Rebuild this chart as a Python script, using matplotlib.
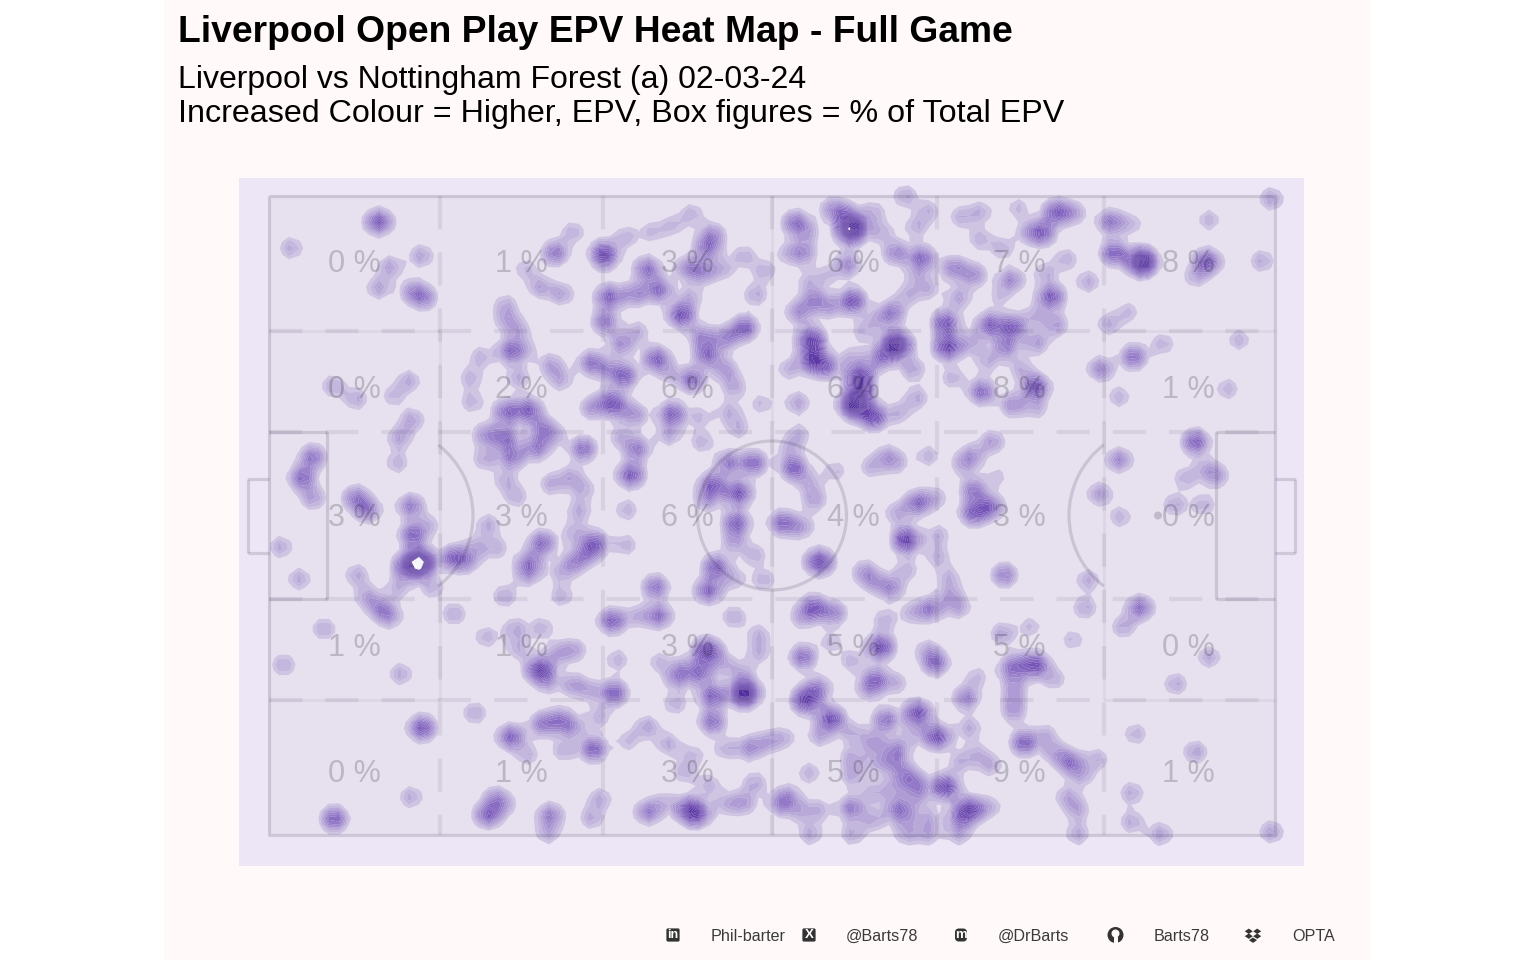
import numpy as np
import matplotlib
matplotlib.use("Agg")
import matplotlib.pyplot as plt
from matplotlib.colors import LinearSegmentedColormap
from matplotlib.patches import Rectangle, Circle, Arc, FancyBboxPatch, Polygon

plt.rcParams['font.family'] = ['Liberation Sans', 'DejaVu Sans']

# pitch units: 1006 long, 639 wide, y measured from the top touchline
TITLE = "Liverpool Open Play EPV Heat Map - Full Game"
SUB1 = "Liverpool vs Nottingham Forest (a) 02-03-24"
SUB2 = "Increased Colour = Higher, EPV, Box figures = % of Total EPV"
col_centres = [85, 252, 418, 584, 750, 919]
row_centres = [66, 192, 320, 449, 576]
pct = [[0, 1, 3, 6, 7, 8],
       [0, 2, 6, 6, 8, 1],
       [3, 3, 6, 4, 3, 0],
       [1, 1, 3, 5, 5, 0],
       [0, 1, 3, 5, 9, 1]]
footer_labels = ["Phil-barter", "@Barts78", "@DrBarts", "Barts78", "OPTA"]

# open-play events: (x, y, epv weight)
# x readings in each half were taken with a slightly narrow ruler; READ_X below calibrates them
events_top_left = [
(105,26,2.2),(20,52,.8),(146,60,.9),(116,71,.9),(105,92,.9),(139,96,1.2),(149,102,1.2),(293,36,.7),(276,57,1.6),
(247,73,.6),(261,91,.9),(282,98,.9),(228,109,.7),(229,124,.8),(241,134,.7),(233,155,1.8),(204,161,.7),(248,154,.5),
(194,182,.7),(195,206,.7),(240,182,.8),(272,169,.9),(281,184,.8),(61,190,.8),(83,203,.8),(134,185,.8),(119,200,.6),
(137,224,.9),(125,242,.9),(123,267,.7),(323,57,2),(324,64,.8),(344,41,.7),(408,18,.7),(389,30,.6),(369,36,.6),
(365,73,1.7),(428,39,1.2),(423,52,1.5),(404,72,1.2),(419,76,1.2),(438,73,.7),(459,60,.7),(478,75,.7),(470,99,.8),
(376,94,1.8),(328,101,2),(353,98,1.3),(407,101,.7),(398,119,2.4),(324,126,1.5),(356,136,.7),(340,148,1.2),(374,163,2),
(386,177,.6),(311,167,1.6),(343,180,1.9),(328,174,.9),(418,141,1.3),(441,142,1.3),(459,132,2),(423,159,1.8),(441,174,1),
(408,184,1.8),(449,191,.8),(329,206,1.9),(311,212,1),(354,219,1),(338,212,.9),(389,218,2),(416,221,.6),(386,239,.8),
(418,246,.7),(444,216,.7),(476,208,.6),(453,232,.7),(229,216,1.8),(250,214,2),(209,239,1.2),(228,242,1.6),(208,263,.8),
(234,261,1.5),(258,252,1.5),(263,232,1.2),(274,239,.8),(303,253,1.7),(339,241,.7),(355,253,1.5),(349,279,2.2),(272,288,.8),
(291,281,.8),(303,293,.7),(228,285,.7),(238,301,.7),(299,315,.8),(345,314,.7),(41,261,1.6),(31,282,1.8),(41,302,1),
(83,302,1.5),(94,314,1.5),(136,310,1.5),(428,289,2),(453,297,2.4),(468,267,1.8),(444,267,1.5),(423,304,1),
]
events_top_right = [
(632,0,.8),(986,3,.9),(526,27,1.7),(538,37,.7),(559,12,.7),(571,17,1.4),(581,31,4.8),(578,39,1.2),(601,16,.7),(609,36,.7),
(654,15,.7),(643,31,.7),(686,21,.7),(705,16,.7),(704,43,.7),(741,12,.6),(778,16,2),(794,17,1),(764,37,2),(751,36,.7),
(831,26,1.6),(851,28,.6),(926,24,.7),(533,57,1.2),(518,57,.6),(576,69,1.3),(556,79,.5),(538,86,.6),(623,57,1.3),(648,62,1.8),
(643,79,.6),(654,93,.7),(634,99,.7),(679,72,1.3),(698,79,1.2),(726,52,.7),(734,84,1.3),(723,101,.5),(788,63,.7),(768,77,.7),
(809,86,.8),(834,57,2),(861,66,5.2),(924,66,2.3),(913,81,.7),(977,65,.8),(773,101,2.2),(581,105,2.3),(544,104,1.2),(529,116,1.2),
(559,111,.9),(619,117,1.5),(604,124,.6),(684,102,.9),(758,120,.7),(778,129,1),(759,147,1),(848,116,.6),(829,128,.8),(591,135,.6),
(541,144,3),(543,164,3),(556,171,1.5),(519,173,.7),(623,149,5.2),(608,162,1.5),(581,162,.7),(588,181,3),(583,209,4.8),(601,221,2.5),
(589,197,2),(639,173,.9),(643,202,.8),(626,217,.7),(528,207,.9),(671,127,2.2),(673,151,2.8),(696,147,.8),(714,129,2),(736,131,2),
(729,151,1.4),(711,166,.7),(744,173,.7),(678,182,.7),(706,196,1.8),(758,191,2.4),(736,209,1.2),(759,212,.7),(821,173,1.3),(853,161,1.7),
(881,148,.7),(839,201,.7),(944,193,.7),(955,144,.7),(913,246,2),(529,239,.7),(519,252,.6),(524,272,2),(539,287,.7),(544,304,.9),
(564,275,.6),(599,271,.7),(614,260,.8),(623,267,.7),(654,260,.7),(716,246,1),(696,260,1),(688,269,.7),(644,307,1.8),(661,302,.7),
(624,317,.8),(698,294,1.5),(721,281,.5),(714,311,1.9),(698,317,2),(839,264,1.3),(820,298,1),(903,282,.7),(923,273,.7),(934,280,.9),
(893,309,.8),(921,309,.7),(840,321,.7),
]
events_bottom_left = [
(10,351,.8),(28,383,.8),(84,379,.8),(124,392,.7),(157,392,.7),(138,339,1.9),(154,329,.6),(144,367,6.5),(131,371,1.8),(178,362,2),
(191,366,.9),(199,351,.7),(219,352,.7),(94,401,.9),(107,413,1.2),(116,421,.9),(263,347,1.8),(251,367,1.5),(249,379,.9),(211,329,.8),
(227,400,.8),(282,400,.7),(281,377,.6),(294,367,1.2),(308,357,1.2),(314,347,1.8),(294,337,.7),(344,349,.7),(373,391,1.6),(178,418,.8),
(52,433,.8),(13,469,.8),(126,478,.8),(209,441,.7),(237,433,.8),(263,432,.7),(240,453,.7),(261,474,3),(269,487,.7),(278,457,.8),
(294,454,.9),(294,489,1),(311,495,.7),(333,497,2),(318,521,.7),(198,517,.8),(147,532,2.2),(136,601,.8),(62,623,2),(233,541,2),
(249,559,.7),(264,528,1.5),(281,524,1.3),(292,532,1),(284,555,.7),(313,553,2),(331,425,2),(355,420,.7),(376,420,1.7),(336,464,.7),
(376,466,.6),(416,477,1.6),(394,481,1.3),(400,471,.6),(423,455,3),(439,468,.7),(457,477,.7),(428,500,2),(459,497,5.0),(392,508,.7),
(428,526,1.7),(365,531,.9),(346,545,.6),(385,548,.8),(409,559,.6),(441,553,.7),(464,552,1.2),(481,546,.8),(469,587,.8),(425,589,.7),
(401,576,.7),(441,608,.7),(458,607,1),(366,616,1.5),(382,606,.6),(406,614,2.8),(414,619,1.6),(218,602,1),(211,619,2),(226,609,.7),
(271,619,1.4),(269,637,.8),(319,603,.8),(311,622,.8),(431,371,1.9),(448,383,.7),(478,384,.7),(424,395,1.9),(449,346,.9),(469,359,.7),
(451,327,2),(449,421,.8),(473,439,.7),(473,457,.7),
]
events_bottom_right = [
(513,327,1.8),(531,331,1),(633,344,3),(664,339,.7),(664,361,.7),(549,366,2.8),(593,376,1),(601,386,.8),(618,392,1.3),(633,374,.7),
(674,382,.7),(676,400,.8),(684,412,.8),(656,413,1.5),(639,417,.7),(728,379,1.4),(809,384,.8),(806,412,.8),(859,412,1.7),(843,431,.8),
(543,412,2.2),(563,417,1.3),(531,422,.7),(612,424,.7),(533,461,1.7),(560,446,.6),(580,465,.7),(608,451,2.6),(653,454,.7),(661,467,1.8),
(603,484,1.7),(623,487,.7),(596,494,.8),(701,481,.6),(691,502,1.4),(753,431,.6),(726,438,.9),(794,444,.6),(758,469,2.4),(739,469,1.2),
(776,483,.7),(733,474,.7),(738,489,.8),(737,504,.8),(737,517,.8),(855,538,.7),(926,461,.8),(894,488,.8),(913,556,.9),(539,501,2.0),
(549,491,1.0),(534,506,1.5),(560,523,2.5),(549,540,.8),(581,537,.7),(613,524,1.6),(644,517,2.5),(663,541,2.4),(694,532,.8),(601,546,1),
(624,553,1.2),(641,537,.6),(514,542,.7),(580,562,.8),(604,566,.7),(621,567,1),(634,580,1.2),(581,580,.8),(539,577,.7),(644,589,1),
(644,601,.7),(621,591,.7),(601,597,.7),(671,591,2.6),(701,557,.6),(685,566,.7),(714,569,.8),(694,614,3),(684,622,1),(714,611,.7),
(624,612,1.2),(631,619,.9),(580,612,1.5),(518,601,1.1),(511,609,1),(531,615,.7),(549,614,.7),(601,624,.8),(654,622,.7),(540,638,.8),
(581,638,.8),(633,638,.8),(654,638,.8),(684,638,.8),(799,638,.8),(747,547,2),(768,539,.7),(776,556,.8),(791,566,1.7),(803,579,.8),
(818,563,.7),(789,601,.8),(799,614,.8),(851,597,.8),(851,626,.8),(879,638,.9),(986,636,.9),
]

SX0, SY0 = 269, 196   # pixel position of pitch origin
BG = '#FFF9F9'
fig = plt.figure(figsize=(15.36, 9.6), dpi=100, facecolor='white')
fig.patches.append(Rectangle((164/1536, 0), (1371-164)/1536, 1, transform=fig.transFigure, fc=BG, ec='none', zorder=-5))
ax = fig.add_axes([239/1536, (960-866)/960, (1304-239)/1536, (866-178)/960])
ax.set_xlim(239-SX0, 1304-SX0)
ax.set_ylim(866-SY0, 178-SY0)
ax.set_facecolor('#EDE6F6')
ax.set_xticks([]); ax.set_yticks([])
for s in ax.spines.values():
    s.set_visible(False)

ax.add_patch(Rectangle((0, 0), 1006, 639, fc='#E6E0EF', ec='none', zorder=1))

READ_X = 1.0331
left = np.array(events_top_left + events_bottom_left, float)
right = np.array(events_top_right + events_bottom_right, float)
left[:, 0] = READ_X*(left[:, 0] + 39) - 39
right[:, 0] = READ_X*(right[:, 0] - 501) + 501
ev = np.vstack([left, right])

gx = np.arange(-30, 1036, 10.0)
gy = np.arange(-18, 671, 6.4)
GX, GY = np.meshgrid(gx, gy)
Z = np.zeros_like(GX)
SIG = 8.2
for x, y, w in ev:
    Z += w*np.exp(-((GX-x)**2 + (GY-y)**2)/(2*SIG**2))
start, step = 0.32, 0.17
levels = np.arange(start, 10.0, step)
c_ramp = LinearSegmentedColormap.from_list('p', ['#CFC5E3', '#B6A5D8', '#A08ACE', '#8C70C4', '#7C5CBC', '#6F4CB2', '#6440AB', '#5A36A4', '#53309D'])
WHITE_AT = 5.0
cols = []
for i in range(len(levels)-1):
    cols.append('white' if levels[i] >= WHITE_AT else c_ramp(min(i/18, 1.0)))
ax.contourf(GX, GY, Z, levels=levels, colors=cols, zorder=2, antialiased=True)

# pitch markings
ec = '#3c3650'
outer = dict(color=ec, alpha=0.17, lw=2.3, zorder=3, solid_capstyle='butt')
inner = dict(color=ec, alpha=0.06, lw=2.2, zorder=3, solid_capstyle='butt')
ax.plot([0, 1006, 1006, 0, 0], [0, 0, 639, 639, 0], **outer)
for xs, ys in [([58, 58], [236, 403]), ([0, 58], [236, 236]), ([0, 58], [403, 403]),
               ([947, 947], [236, 403]), ([947, 1006], [236, 236]), ([947, 1006], [403, 403]),
               ([-21, -21], [283, 357]), ([-21, 0], [283, 283]), ([-21, 0], [357, 357]),
               ([1026, 1026], [283, 357]), ([1006, 1026], [283, 283]), ([1006, 1026], [357, 357])]:
    ax.plot(xs, ys, **outer)
for xs, ys in [([171, 171], [135, 504]), ([0, 171], [135, 135]), ([0, 171], [504, 504]),
               ([835, 835], [135, 504]), ([835, 1006], [135, 135]), ([835, 1006], [504, 504]),
               ([503, 503], [0, 639])]:
    ax.plot(xs, ys, **inner)
ax.add_patch(Circle((503, 319.5), 74.5, fc='none', ec=ec, alpha=0.17, lw=2.3, zorder=3))
ax.add_patch(Arc((115, 319.5), 178, 178, theta1=-52.5, theta2=52.5, ec=ec, alpha=0.17, lw=2.3, zorder=3))
ax.add_patch(Arc((889, 319.5), 178, 178, theta1=127.5, theta2=232.5, ec=ec, alpha=0.17, lw=2.3, zorder=3))
ax.add_patch(Circle((889, 319.5), 4, fc=ec, ec='none', alpha=0.22, zorder=3))

dc = dict(color=ec, alpha=0.09, lw=3.0, zorder=3, dashes=(8, 5.5))
for x in [171, 334, 503, 668, 835]:
    ax.plot([x, x], [0, 639], **dc)
for y in [135, 236, 403, 504]:
    ax.plot([0, 1006], [y, y], **dc)

for r, rc in enumerate(row_centres):
    for c, cc in enumerate(col_centres):
        ax.text(cc, rc+2.5, f"{pct[r][c]} %", ha='center', va='center', fontsize=22,
                color='#222222', alpha=0.22, zorder=5)

fig.text(178/1536, 1-32/960, TITLE, fontsize=26.85, fontweight='bold', color='black', va='center', ha='left')
fig.text(178/1536, 1-80/960, SUB1, fontsize=23.0, color='black', va='center', ha='left')
fig.text(178/1536, 1-114/960, SUB2, fontsize=23.2, color='black', va='center', ha='left')

# footer
for lab, px in zip(footer_labels, [711, 846, 998, 1154, 1292]):
    fig.text(px/1536, 1-941/960, lab, fontsize=11.6, color='#3a3a3a', va='baseline', ha='left')

ic = fig.add_axes([0, 0, 1, 1], facecolor='none')
ic.set_xlim(0, 1536); ic.set_ylim(960, 0); ic.axis('off')
dark = '#333333'
for cx, glyph, fs in [(673, 'in', 9), (809, 'X', 9.5)]:
    ic.add_patch(FancyBboxPatch((cx-6, 929), 12, 12, boxstyle='round,pad=0.6,rounding_size=1.5', fc=dark, ec='none'))
    ic.text(cx, 935.3, glyph, color='white', fontsize=fs, fontweight='bold', ha='center', va='center')
ic.add_patch(FancyBboxPatch((955.5, 929), 11, 12, boxstyle='round,pad=0.5,rounding_size=4', fc=dark, ec='none'))
ic.text(961, 934.5, 'm', color='white', fontsize=9.5, fontweight='bold', ha='center', va='center')
ic.add_patch(Circle((1115.5, 935), 8, fc=dark, ec='none'))
ic.add_patch(Circle((1115.5, 933.5), 4, fc=BG, ec='none'))
ic.add_patch(Rectangle((1113.5, 937), 4, 6.5, fc=BG, ec='none'))
for dx, dy in [(-4.2, -3.7), (4.2, -3.7), (-4.2, 1.2), (4.2, 1.2), (0, 5.2)]:
    ic.add_patch(Polygon([(1253+dx-4, 935+dy), (1253+dx, 935+dy-2.7), (1253+dx+4, 935+dy), (1253+dx, 935+dy+2.7)], fc=dark, ec='none'))

fig.savefig('out.png', dpi=100, facecolor=fig.get_facecolor())
